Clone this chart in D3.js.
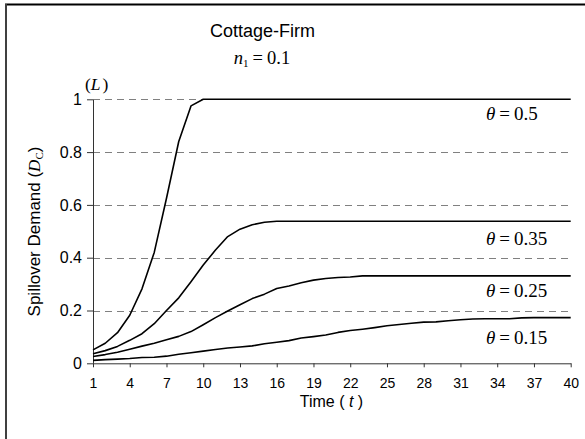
<!DOCTYPE html>
<html>
<head>
<meta charset="utf-8">
<script src="https://cdn.jsdelivr.net/npm/d3@7"></script>
<style>
  html, body { margin: 0; padding: 0; background: #fff; }
  svg { display: block; }
</style>
</head>
<body>
<svg id="chart" width="585" height="439"></svg>
<script>
const time = [1,2,3,4,5,6,7,8,9,10,11,12,13,14,15,16,17,18,19,20,21,22,23,24,25,26,27,28,29,30,31,32,33,34,35,36,37,38,39,40];
const xTickValues = [1,4,7,10,13,16,19,22,25,28,31,34,37,40];
const yTickValues = [0,0.2,0.4,0.6,0.8,1];
const gridValues = [0.2,0.4,0.6,0.8,1];

const theta05 = [0.051,0.076,0.116,0.182,0.282,0.420,0.625,0.840,0.975,1,
  1,1,1,1,1,1,1,1,1,1, 1,1,1,1,1,1,1,1,1,1, 1,1,1,1,1,1,1,1,1,1];
const theta035 = [0.036,0.048,0.064,0.087,0.112,0.150,0.200,0.248,0.309,0.372,
  0.429,0.480,0.508,0.525,0.534,0.538,0.538,0.538,0.538,0.538,
  0.538,0.538,0.538,0.538,0.538,0.538,0.538,0.538,0.538,0.538,
  0.538,0.538,0.538,0.538,0.538,0.538,0.538,0.538,0.538,0.538];
const theta025 = [0.026,0.033,0.042,0.053,0.065,0.076,0.089,0.102,0.120,0.146,
  0.173,0.198,0.222,0.245,0.262,0.283,0.293,0.305,0.315,0.321,
  0.325,0.327,0.331,0.331,0.331,0.331,0.331,0.331,0.331,0.331,
  0.331,0.331,0.331,0.331,0.331,0.331,0.331,0.331,0.331,0.331];
const theta015 = [0.011,0.014,0.016,0.018,0.022,0.023,0.027,0.034,0.040,0.046,
  0.052,0.058,0.062,0.066,0.074,0.080,0.086,0.096,0.101,0.107,
  0.117,0.124,0.129,0.135,0.142,0.147,0.152,0.156,0.157,0.161,
  0.165,0.168,0.169,0.169,0.169,0.172,0.173,0.173,0.173,0.173];

const seriesNames = ["0.5","0.35","0.25","0.15"];
const seriesValues = [theta05, theta035, theta025, theta015];

const SANS = "'Liberation Sans', Arial, sans-serif";
const SERIF = "'Liberation Serif', 'Times New Roman', serif";

const svg = d3.select("#chart");

// outer frame (top and left edges visible)
svg.append("line").attr("x1", 5).attr("x2", 585).attr("y1", 4.5).attr("y2", 4.5)
  .attr("stroke", "#000").attr("stroke-width", 2);
svg.append("line").attr("x1", 6).attr("x2", 6).attr("y1", 4).attr("y2", 439)
  .attr("stroke", "#404040").attr("stroke-width", 2);

const x = d3.scaleLinear().domain([1, 40]).range([93, 570.7]);
const y = d3.scaleLinear().domain([0, 1]).range([363.3, 99.3]);

// gridlines
svg.append("g").selectAll("line").data(gridValues).join("line")
  .attr("x1", x(1)).attr("x2", x(40))
  .attr("y1", d => Math.round(y(d)) + 0.5).attr("y2", d => Math.round(y(d)) + 0.5)
  .attr("stroke", "#808080").attr("stroke-width", 1)
  .attr("stroke-dasharray", "7,5");

// axes
const xAxis = d3.axisBottom(x).tickValues(xTickValues).tickSize(4).tickSizeOuter(0).tickPadding(10.5)
  .tickFormat(d3.format("d"));
const gx = svg.append("g").attr("transform", `translate(0,${y(0)})`).call(xAxis);
gx.select(".domain").attr("stroke", "#333");
gx.selectAll(".tick line").attr("stroke", "#333");
gx.selectAll("text").attr("font-family", SANS)
  .attr("font-size", 14).attr("fill", "#000");

const yAxis = d3.axisLeft(y).tickValues(yTickValues).tickSize(6).tickSizeOuter(0).tickPadding(5)
  .tickFormat(d3.format("~g"));
const gy = svg.append("g").attr("transform", `translate(${x(1)},0)`).call(yAxis);
gy.select(".domain").attr("stroke", "#333");
gy.selectAll(".tick line").attr("stroke", "#333");
gy.selectAll("text").attr("font-family", SANS)
  .attr("font-size", 16).attr("fill", "#000");

// lines
const line = d3.line().x((d, i) => x(time[i])).y(d => y(d));
svg.append("g").selectAll("path").data(seriesValues).join("path")
  .attr("d", d => line(d))
  .attr("fill", "none").attr("stroke", "#000").attr("stroke-width", 1.6)
  .attr("stroke-linejoin", "round");

// series labels
const labelY = [119.5, 245, 296.5, 344];
const lab = svg.append("g").selectAll("text").data(seriesNames).join("text")
  .attr("x", 486).attr("y", (d, i) => labelY[i])
  .attr("font-family", SERIF)
  .attr("font-size", 19).attr("fill", "#000");
lab.append("tspan").attr("font-style", "italic").text("θ");
lab.append("tspan").attr("dx", 4).text("=");
lab.append("tspan").attr("dx", 4).text(d => d);

// title
svg.append("text").attr("x", 262.5).attr("y", 36.5).attr("text-anchor", "middle")
  .attr("font-family", SANS).attr("font-size", 18)
  .attr("fill", "#000").text("Cottage-Firm");

const sub = svg.append("text").attr("x", 262).attr("y", 63.5).attr("text-anchor", "middle")
  .attr("font-family", SERIF).attr("font-size", 18.5)
  .attr("fill", "#000");
sub.append("tspan").attr("font-style", "italic").text("n");
sub.append("tspan").attr("font-size", 11).attr("dy", 3).text("1");
sub.append("tspan").attr("dy", -3).attr("dx", 4).text("=");
sub.append("tspan").attr("dx", 4).text("0.1");

const lt = svg.append("text").attr("x", 85).attr("y", 90)
  .attr("font-family", SERIF).attr("font-size", 17.5)
  .attr("fill", "#000");
lt.append("tspan").text("(");
lt.append("tspan").attr("font-style", "italic").text("L");
lt.append("tspan").attr("dx", 2).text(")");

// axis titles
const yl = svg.append("text").attr("transform", "translate(40,231.5) rotate(-90)")
  .attr("text-anchor", "middle")
  .attr("font-family", SANS).attr("font-size", 17)
  .attr("fill", "#000");
yl.append("tspan").text("Spillover Demand (");
yl.append("tspan").attr("font-family", SERIF).attr("font-style", "italic").text("D");
yl.append("tspan").attr("font-family", SERIF).attr("font-size", 11).attr("dy", 3).text("C");
yl.append("tspan").attr("dy", -3).text(")");

const xl = svg.append("text").attr("x", 331.5).attr("y", 406.5).attr("text-anchor", "middle")
  .attr("font-family", SANS).attr("font-size", 16)
  .attr("fill", "#000");
xl.append("tspan").text("Time ( ");
xl.append("tspan").attr("font-style", "italic").text("t");
xl.append("tspan").text(" )");
</script>
</body>
</html>
